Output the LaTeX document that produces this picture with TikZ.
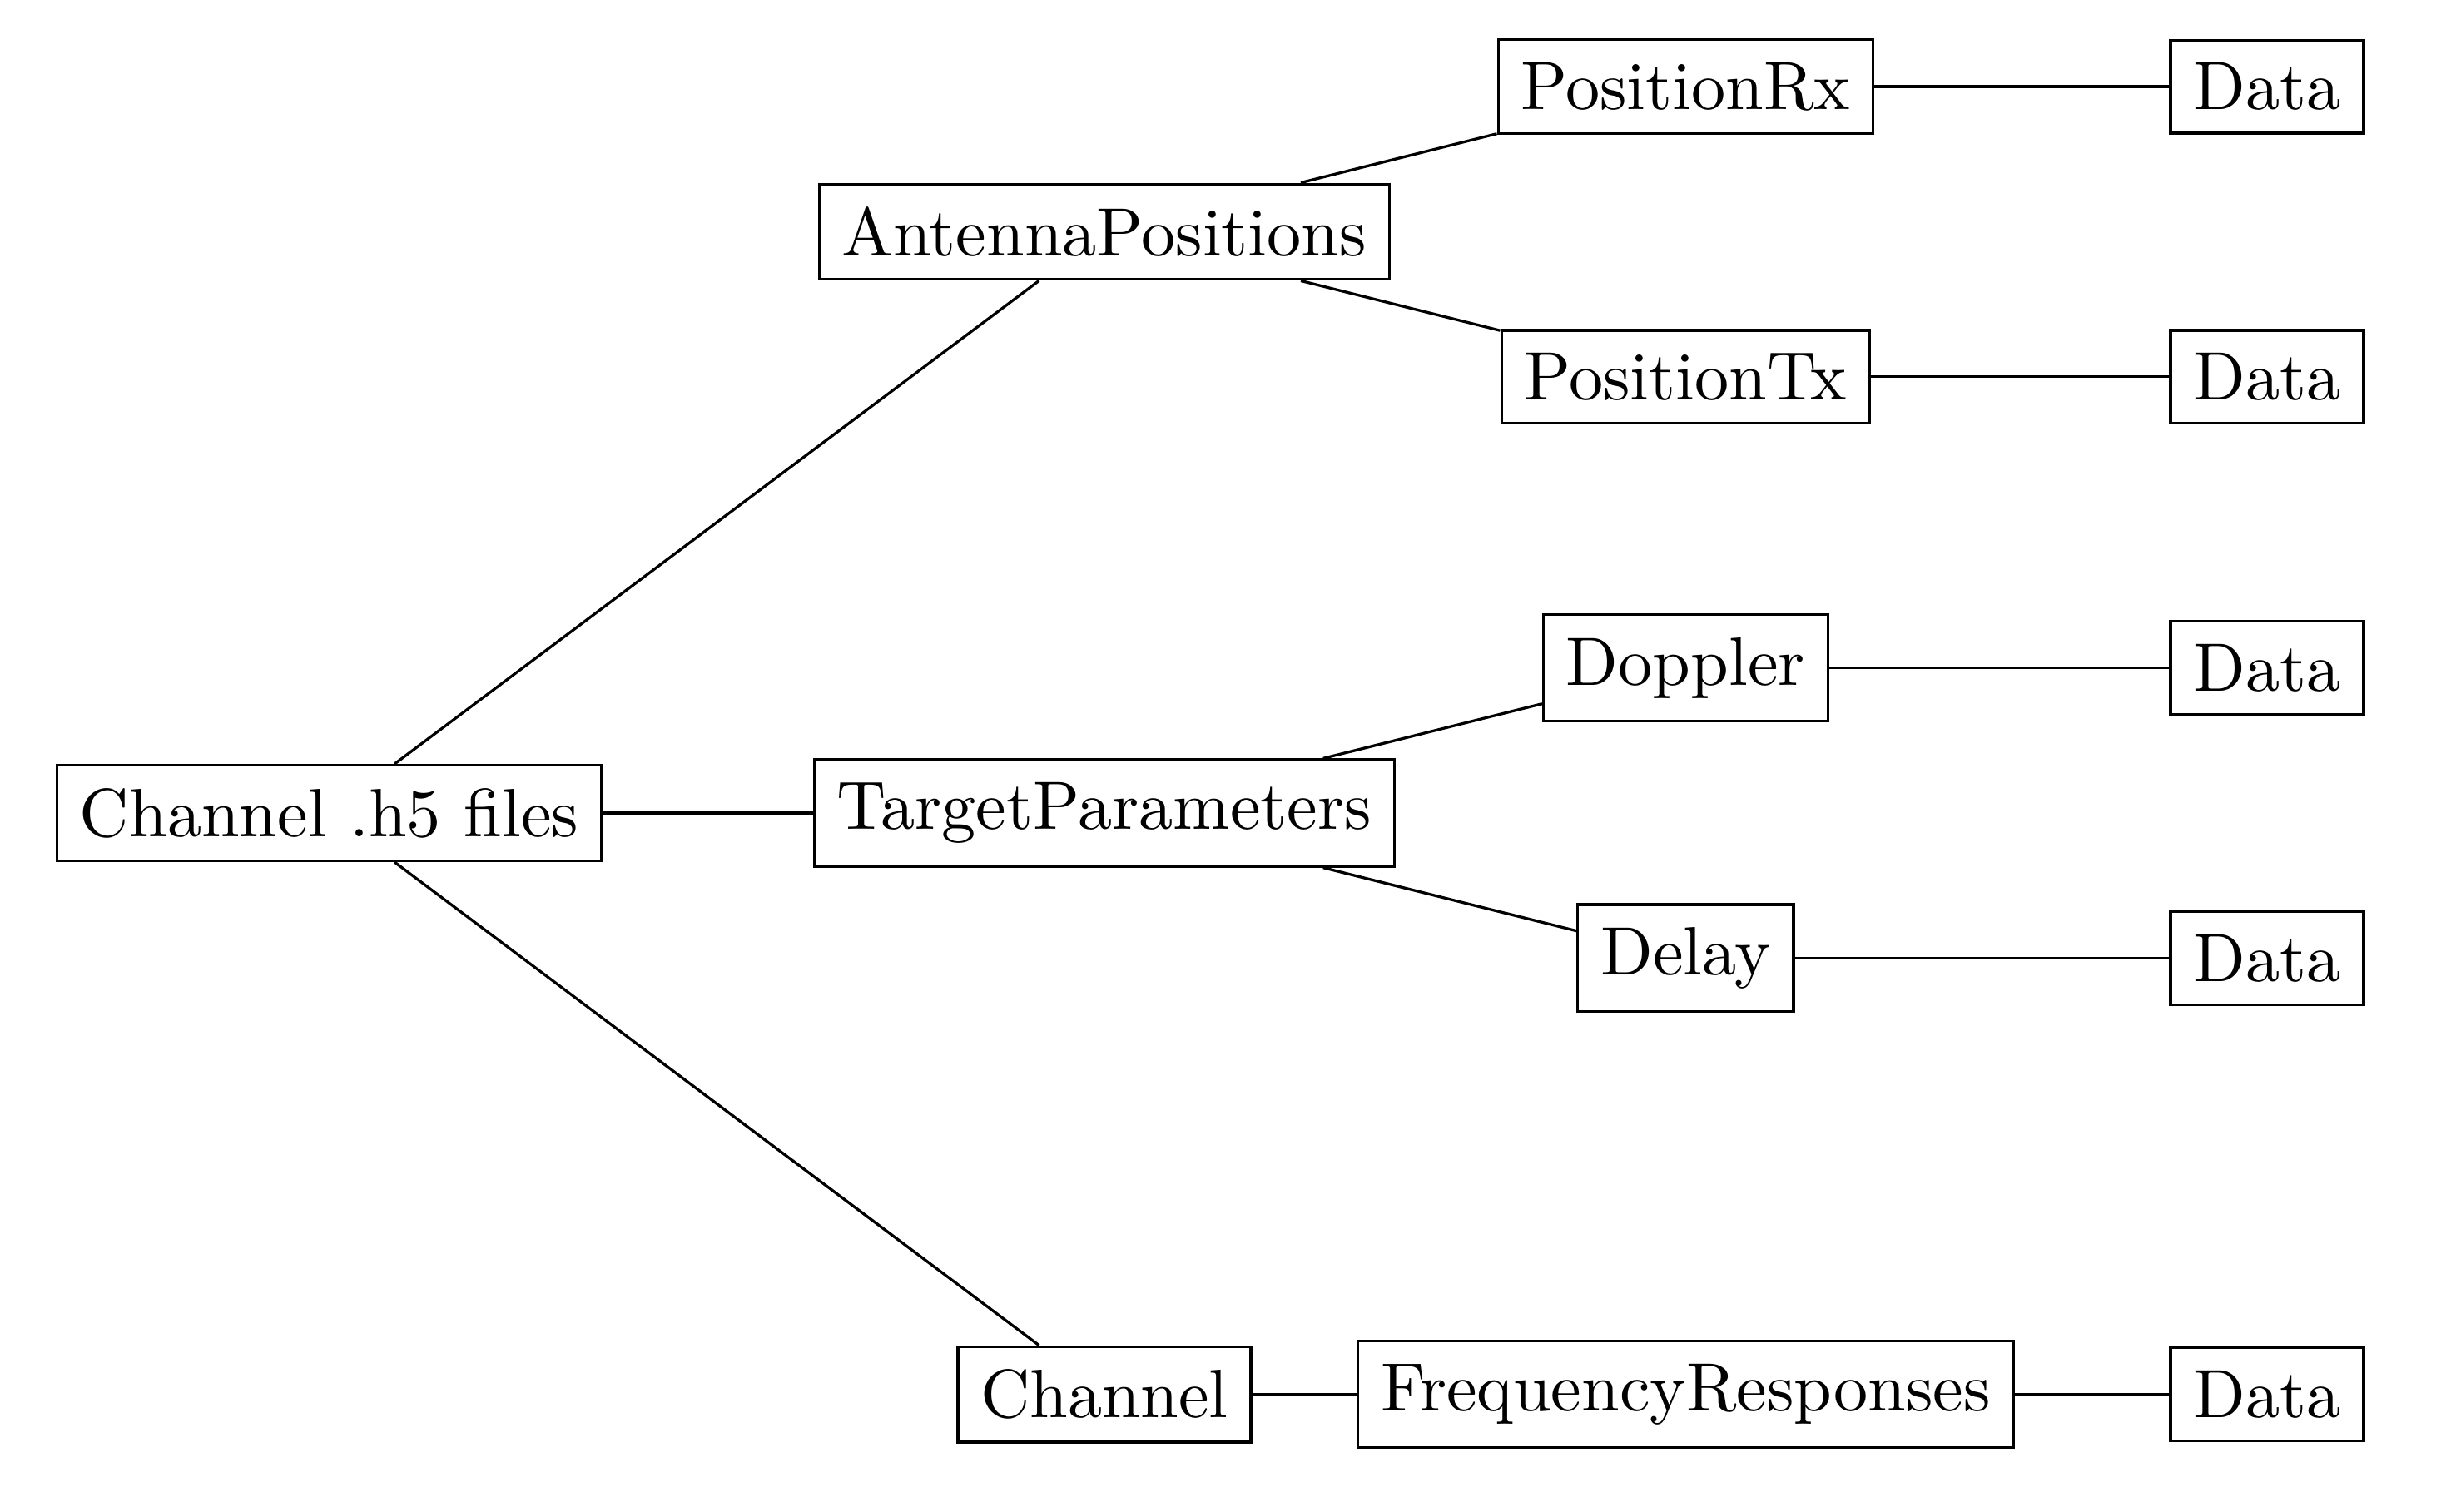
\documentclass[tikz,border=0pt]{standalone}
\usetikzlibrary{positioning}

\begin{document}
\begin{tikzpicture}[
        node distance=2.985cm and 2.985cm, on grid,
        filebox/.style={rectangle, draw=black, fill=white},
        edge/.style={draw=black},
    ]
        \useasboundingbox (-1.69,-3.585) rectangle (10.92,4.175);

        % Root file
        \node[filebox] (root) {Channel .h5 files};

        % Groups
        \node[filebox, above right=2.985cm and 3.98cm of root] (antpos) {AntennaPositions};
        \node[filebox, right=3.98cm of root] (tgtpar) {TargetParameters};
        \node[filebox, below right=2.985cm and 3.98cm of root] (chan) {Channel};

        % Datasets
        \node[filebox, above right=0.745cm and 2.985cm of antpos] (posrx) {PositionRx};
        \node[filebox, below right=0.745cm and 2.985cm of antpos] (postx) {PositionTx};
        \node[filebox, above right=0.745cm and 2.985cm of tgtpar] (doppler) {Doppler};
        \node[filebox, below right=0.745cm and 2.985cm of tgtpar] (delay) {Delay};
        \node[filebox, right=of chan] (freqresp) {FrequencyResponses};

        % Data leaves
        \node[filebox, right=of posrx] (datarx) {Data};
        \node[filebox, right=of postx] (datatx) {Data};
        \node[filebox, right=of doppler] (datadop) {Data};
        \node[filebox, right=of delay] (datadly) {Data};
        \node[filebox, right=of freqresp] (datafr) {Data};

        % Edges
        \draw[edge] (root) -- (antpos);
        \draw[edge] (root) -- (tgtpar);
        \draw[edge] (root) -- (chan);
        \draw[edge] (antpos) -- (posrx);
        \draw[edge] (antpos) -- (postx);
        \draw[edge] (tgtpar) -- (doppler);
        \draw[edge] (tgtpar) -- (delay);
        \draw[edge] (chan) -- (freqresp);
        \draw[edge] (posrx) -- (datarx);
        \draw[edge] (postx) -- (datatx);
        \draw[edge] (doppler) -- (datadop);
        \draw[edge] (delay) -- (datadly);
        \draw[edge] (freqresp) -- (datafr);
    \end{tikzpicture}
\end{document}
